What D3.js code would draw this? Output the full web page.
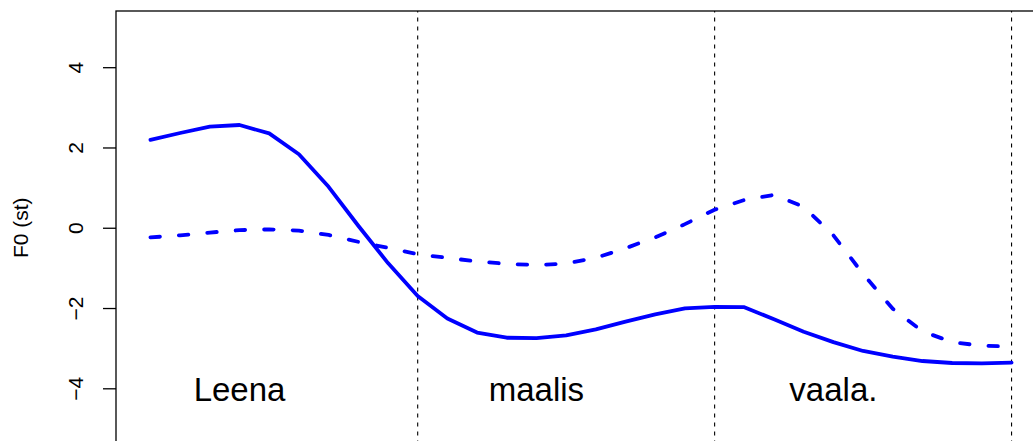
<!DOCTYPE html>
<html>
<head>
<meta charset="utf-8">
<script src="https://cdn.jsdelivr.net/npm/d3@7"></script>
<style>
  html, body { margin: 0; padding: 0; background: #fff; }
  svg { display: block; font-family: "Liberation Sans", Arial, Helvetica, sans-serif; }
</style>
</head>
<body>
<div id="chart"></div>
<script>
// normalized time points (10 per word)
const timePoints = d3.range(1, 31);
// F0 contours in semitones
const solidF0 = [2.19, 2.36, 2.52, 2.56, 2.35, 1.83, 1.02, 0.05, -0.88, -1.70,
  -2.26, -2.61, -2.74, -2.75, -2.68, -2.53, -2.34, -2.16, -2.01, -1.97,
  -1.98, -2.28, -2.59, -2.85, -3.07, -3.21, -3.32, -3.37, -3.38, -3.36];
const dashedF0 = [-0.24, -0.19, -0.12, -0.06, -0.04, -0.07, -0.18, -0.35, -0.50, -0.66,
  -0.75, -0.84, -0.90, -0.93, -0.89, -0.75, -0.51, -0.24, 0.09, 0.45,
  0.69, 0.82, 0.52, -0.19, -1.15, -2.02, -2.58, -2.85, -2.94, -2.96];
const wordBounds = [10, 20, 30];
const words = ["Leena", "maalis", "vaala."];
const wordX = [4, 14, 24];
const wordY = -4;
const yTicks = [-4, -2, 0, 2, 4];

const width = 1033;
const height = 441;
const plot = { left: 116, top: 11, right: 1046, bottom: 444.5 };

const svg = d3.select("#chart")
  .append("svg")
  .attr("width", width)
  .attr("height", height);

// R style 4% padding around xlim c(1,30), ylim c(-5,5)
const x = d3.scaleLinear()
  .domain([1 - 29 * 0.04, 30 + 29 * 0.04])
  .range([plot.left, plot.right]);

const y = d3.scaleLinear()
  .domain([-5.4, 5.4])
  .range([plot.bottom, plot.top]);

// word boundaries
svg.selectAll(".bound")
  .data(wordBounds)
  .enter().append("line")
  .attr("class", "bound")
  .attr("x1", d => x(d))
  .attr("x2", d => x(d))
  .attr("y1", plot.bottom)
  .attr("y2", plot.top)
  .attr("stroke", "#000")
  .attr("stroke-width", 1.1)
  .attr("stroke-dasharray", "4,5");

const line = d3.line()
  .x((d, i) => x(timePoints[i]))
  .y(d => y(d));

svg.append("path")
  .datum(solidF0)
  .attr("d", line)
  .attr("fill", "none")
  .attr("stroke", "#0000ff")
  .attr("stroke-width", 3.8)
  .attr("stroke-linejoin", "round")
  .attr("stroke-linecap", "round");

svg.append("path")
  .datum(dashedF0)
  .attr("d", line)
  .attr("fill", "none")
  .attr("stroke", "#0000ff")
  .attr("stroke-width", 3.8)
  .attr("stroke-linejoin", "round")
  .attr("stroke-linecap", "round")
  .attr("stroke-dasharray", "9.5,19");

// word labels
svg.selectAll(".word")
  .data(words)
  .enter().append("text")
  .attr("class", "word")
  .attr("x", (d, i) => x(wordX[i]))
  .attr("y", y(wordY) + 12.3)
  .attr("text-anchor", "middle")
  .attr("font-size", 33)
  .attr("fill", "#000")
  .text(d => d);

// plot box
svg.append("rect")
  .attr("x", plot.left)
  .attr("y", plot.top)
  .attr("width", plot.right - plot.left)
  .attr("height", plot.bottom - plot.top)
  .attr("fill", "none")
  .attr("stroke", "#000")
  .attr("stroke-width", 1.3);

// y axis
const yAxis = svg.append("g")
  .attr("transform", `translate(${plot.left},0)`)
  .call(d3.axisLeft(y).tickValues(yTicks).tickSize(13)
    .tickFormat(d => String(d).replace("-", "\u2212")));

yAxis.select(".domain").remove();
yAxis.selectAll("line").attr("stroke", "#000").attr("stroke-width", 1.3);
yAxis.selectAll("text")
  .attr("x", 0)
  .attr("dy", 0)
  .attr("text-anchor", "middle")
  .attr("transform", `translate(${83.3 - plot.left},0) rotate(-90)`)
  .attr("font-size", 21)
  .attr("font-family", "Liberation Sans, Arial, sans-serif")
  .attr("fill", "#000");

svg.append("text")
  .attr("transform", `translate(27.5,${y(0)}) rotate(-90)`)
  .attr("text-anchor", "middle")
  .attr("font-size", 21)
  .attr("fill", "#000")
  .text("F0 (st)");
</script>
</body>
</html>
